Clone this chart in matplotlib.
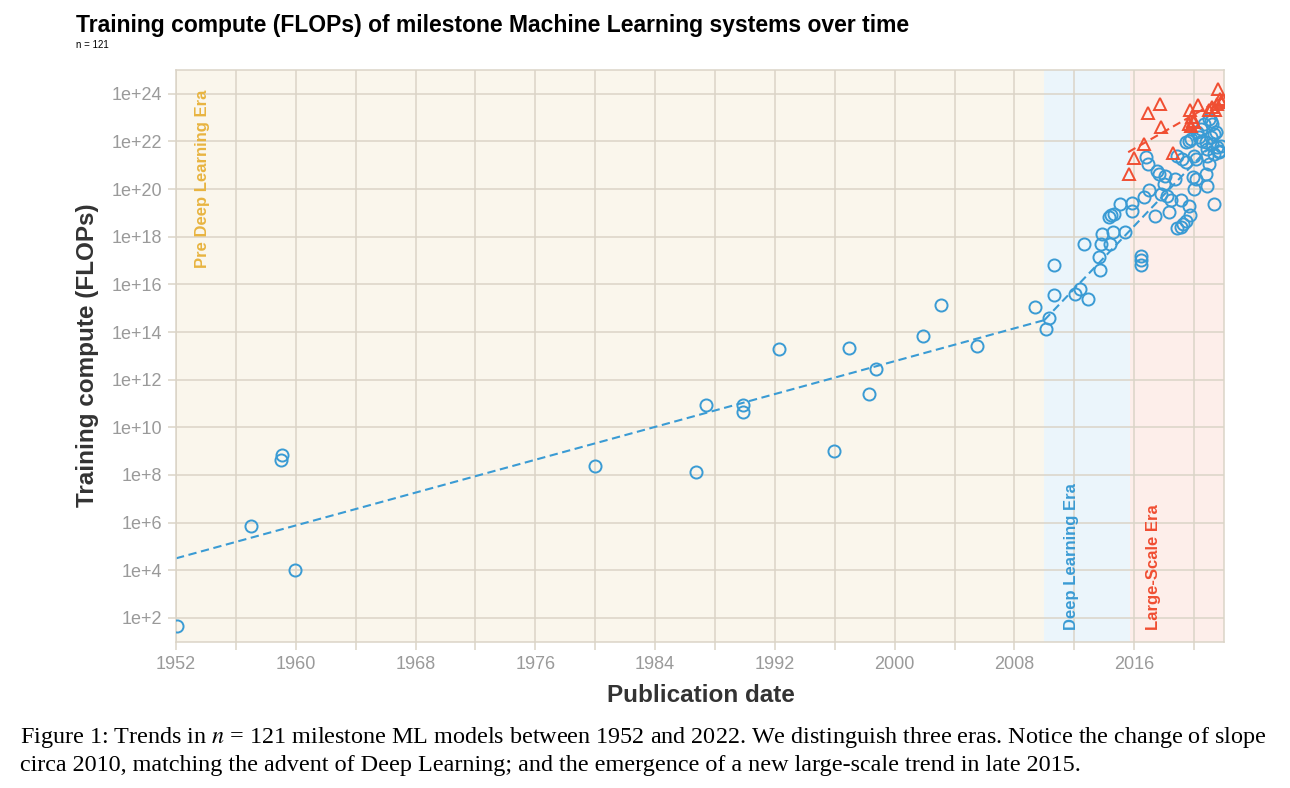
import numpy as np
import matplotlib
matplotlib.use("Agg")
import matplotlib.pyplot as plt
from matplotlib.ticker import FixedLocator, FixedFormatter, NullLocator

plt.rcParams["font.family"] = ["Liberation Sans", "DejaVu Sans"]
plt.rcParams["mathtext.fontset"] = "stix"

# ---- data (year, log10 FLOPs) ----
pre_years = [1952.05, 1956.99, 1959.0, 1959.09, 1959.97, 1979.96, 1986.71, 1987.38,
             1989.85, 1989.85, 1992.28, 1995.93, 1996.96, 1998.32, 1998.74, 2001.88,
             2003.13, 2005.52, 2009.37]
pre_logc = [1.64, 5.87, 8.63, 8.82, 4.03, 8.37, 8.12, 10.93,
            10.93, 10.65, 13.28, 9.0, 13.33, 11.38, 12.45, 13.82,
            15.14, 13.4, 15.03]

dl_years = [2010.09, 2010.31, 2010.64, 2010.64, 2012.04, 2012.38, 2012.94, 2012.64,
            2013.71, 2013.65, 2013.83, 2013.76, 2014.38, 2014.61, 2014.32, 2014.48,
            2014.65, 2015.05, 2015.37, 2015.88, 2015.88]
dl_logc = [14.13, 14.57, 15.55, 16.8, 15.58, 15.82, 15.38, 17.68,
           16.62, 17.15, 18.13, 17.71, 17.71, 18.2, 18.83, 18.9,
           18.97, 19.39, 18.2, 19.43, 19.08]

reg_years = [2016.44, 2016.44, 2016.44, 2017.37, 2016.99, 2016.65, 2016.77, 2016.92,
             2017.55, 2017.66, 2018.04, 2017.99, 2017.82, 2018.17, 2018.44, 2018.73,
             2018.33, 2019.11, 2019.66, 2019.73, 2018.89, 2019.11, 2019.29, 2019.44,
             2020.0, 2019.96, 2020.11, 2020.78, 2020.85, 2021.33,
             2018.89, 2019.22, 2019.44, 2020.0, 2020.11, 2020.89, 2021.0, 2021.33, 2021.67,
             2019.44, 2019.66, 2019.78, 2020.22, 2020.44, 2020.33, 2020.56, 2020.78,
             2020.89, 2021.11, 2021.23, 2021.33, 2021.56, 2021.67, 2021.11, 2021.23,
             2021.0, 2021.45, 2021.78, 2020.67]
reg_logc = [17.18, 17.01, 16.8, 18.87, 19.97, 19.66, 21.34, 21.06,
            20.78, 20.65, 20.57, 20.23, 19.81, 19.73, 19.56, 20.44,
            19.04, 19.56, 19.27, 18.9, 18.38, 18.41, 18.52, 18.66,
            20.02, 20.5, 20.44, 20.62, 20.11, 19.39,
            21.41, 21.27, 21.13, 21.41, 21.27, 21.41, 21.06, 21.48, 21.55,
            21.97, 22.04, 22.11, 22.39, 22.53, 22.18, 22.04, 21.97,
            21.69, 22.18, 21.9, 22.32, 21.76, 21.62, 22.88, 22.74,
            22.95, 22.39, 21.83, 22.74]

large_years = [2015.65, 2015.99, 2016.65, 2016.95, 2017.72, 2017.82, 2018.62, 2019.73,
               2020.29, 2019.84, 2019.96, 2019.66, 2019.78, 2020.0, 2021.0, 2021.23,
               2021.4, 2021.56, 2021.63, 2021.74, 2021.78, 2021.9]
large_logc = [20.62, 21.32, 21.9, 23.2, 23.58, 22.6, 21.51, 23.33,
              23.54, 23.02, 22.88, 22.74, 22.67, 22.81, 23.33, 23.44,
              23.33, 23.58, 24.21, 23.79, 23.65, 23.72]

# trend lines (endpoints)
pre_trend_x, pre_trend_y = [1952, 2010], [4.5, 14.5]
dl_trend_x, dl_trend_y = [2010, 2022], [14.5, 22.4]
large_trend_x, large_trend_y = [2015.6, 2022], [21.55, 23.85]

# eras
era_bounds = [1952, 2010.0, 2015.7, 2022]
era_names = ["Pre Deep Learning Era", "Deep Learning Era", "Large-Scale Era"]

x_ticks = list(range(1952, 2021, 4))
x_labels = [str(y) if (y - 1952) % 8 == 0 else "" for y in x_ticks]
y_exps = list(range(2, 25, 2))
y_labels = [f"1e+{e}" for e in y_exps]

BLUE = "#3a9bd4"
RED = "#f04e32"
GOLD = "#e8b440"
GRID = "#dbd4c7"

fig = plt.figure(figsize=(12.9, 7.88), dpi=100)
ax = fig.add_axes([176 / 1290, 1 - 641.7 / 788, (1224 - 176) / 1290, (641.7 - 70) / 788])

# era backgrounds
era_bg = ["#faf6ec", "#ebf5fb", "#fdeeea"]
for i in range(3):
    ax.axvspan(era_bounds[i], era_bounds[i + 1], color=era_bg[i], lw=0, zorder=0)

ax.set_yscale("log")
ax.set_xlim(1952, 2022)
ax.set_ylim(1e1, 1e25)

ax.xaxis.set_major_locator(FixedLocator(x_ticks))
ax.xaxis.set_major_formatter(FixedFormatter(x_labels))
ax.yaxis.set_major_locator(FixedLocator([10.0 ** e for e in y_exps]))
ax.yaxis.set_major_formatter(FixedFormatter(y_labels))
ax.yaxis.set_minor_locator(NullLocator())
ax.xaxis.set_minor_locator(NullLocator())

ax.grid(True, color=GRID, lw=1.1, zorder=0.5)
ax.set_axisbelow(True)
for s in ax.spines.values():
    s.set_color(GRID)
    s.set_linewidth(1.1)
ax.tick_params(axis="both", direction="out", length=6, width=1.1, color=GRID,
               labelcolor="#9a9a9a", labelsize=13, pad=4)

# trend lines
ax.plot(pre_trend_x, 10.0 ** np.array(pre_trend_y), color=BLUE, lw=1.5,
        dashes=(4, 2.2), zorder=2)
ax.plot(dl_trend_x, 10.0 ** np.array(dl_trend_y), color=BLUE, lw=1.5,
        dashes=(4, 2.2), zorder=2)
ax.plot(large_trend_x, 10.0 ** np.array(large_trend_y), color=RED, lw=1.5,
        dashes=(4, 2.2), zorder=2)

# points
circ_x = pre_years + dl_years + reg_years
circ_y = 10.0 ** np.array(pre_logc + dl_logc + reg_logc)
ax.plot(circ_x, circ_y, ls="none", marker="o", ms=8.7, mfc="none", mec=BLUE,
        mew=1.4, zorder=3)
ax.plot(large_years, 10.0 ** np.array(large_logc), ls="none", marker="^", ms=9.2,
        mfc="none", mec=RED, mew=1.4, zorder=3)

# era labels
trans = ax.get_xaxis_transform()
ax.text(1953.8, 0.965, era_names[0], transform=trans, rotation=90, ha="center",
        va="top", color=GOLD, fontsize=12, fontweight="bold")
ax.text(2011.8, 0.021, era_names[1], transform=trans, rotation=90, ha="center",
        va="bottom", color=BLUE, fontsize=12, fontweight="bold")
ax.text(2017.3, 0.021, era_names[2], transform=trans, rotation=90, ha="center",
        va="bottom", color=RED, fontsize=12, fontweight="bold")

# titles and axis labels
fig.text(76 / 1290, 1 - 32 / 788, "Training compute (FLOPs) of milestone Machine Learning systems over time",
         ha="left", va="baseline", fontsize=16.45, fontweight="bold", color="black")
fig.text(76 / 1290, 1 - 48 / 788, "n = 121", ha="left", va="baseline", fontsize=7, color="black")
fig.text(88 / 1290, 1 - 355 / 788, "Training compute (FLOPs)", rotation=90, ha="center",
         va="center", fontsize=17.5, fontweight="bold", color="#333333")
fig.text(701 / 1290, 1 - 695 / 788, "Publication date", ha="center", va="center",
         fontsize=17.5, fontweight="bold", color="#333333")

# caption
cap1 = ("Figure 1: Trends in $n$ = 121 milestone ML models between 1952 and 2022. "
        "We distinguish three eras. Notice the change of slope")
cap2 = ("circa 2010, matching the advent of Deep Learning; and the emergence of a new "
        "large-scale trend in late 2015.")
fig.text(20 / 1290, 1 - 738 / 788, cap1, ha="left", va="center", fontsize=17.4,
         family="Liberation Serif")
fig.text(20 / 1290, 1 - 765 / 788, cap2, ha="left", va="center", fontsize=17.4,
         family="Liberation Serif")

fig.savefig("out.png", dpi=100)
